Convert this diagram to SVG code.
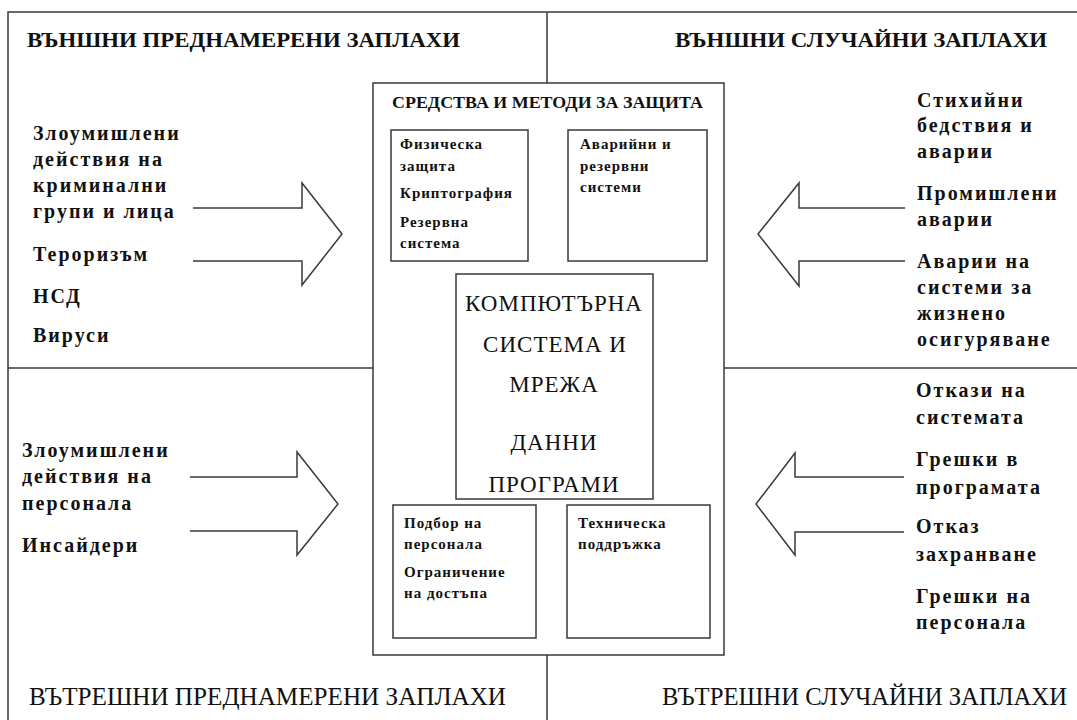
<svg xmlns="http://www.w3.org/2000/svg" width="1077" height="720" viewBox="0 0 1077 720">
<style>
.ln{fill:none;stroke:#3a3a3a;stroke-width:1.5}
.bx{fill:#fff;stroke:#3a3a3a;stroke-width:1.5}
.hd{font-family:"Liberation Serif","DejaVu Serif",serif;font-weight:bold;font-size:21px;fill:#111}
.hb{font-family:"Liberation Serif","DejaVu Serif",serif;font-size:25px;fill:#111}
.th{font-family:"Liberation Serif","DejaVu Serif",serif;font-weight:bold;font-size:20px;letter-spacing:2px;fill:#111}
.sm{font-family:"Liberation Serif","DejaVu Serif",serif;font-weight:bold;font-size:15px;letter-spacing:1px;fill:#111}
.ti{font-family:"Liberation Serif","DejaVu Serif",serif;font-weight:bold;font-size:16px;fill:#111}
.cn{font-family:"Liberation Serif","DejaVu Serif",serif;font-size:23px;letter-spacing:1px;fill:#111;text-anchor:middle}
</style>
<rect width="1077" height="720" fill="#fff"/>
<g id="frame">
<path class="ln" d="M8,720 V12 H1077"/>
<path class="ln" d="M547,12 V83 M547,655 V720 M8,368 H373 M724,368 H1077"/>
</g>
<g id="quad-headers">
<text class="hd" x="27" y="47" textLength="433" lengthAdjust="spacingAndGlyphs">ВЪНШНИ ПРЕДНАМЕРЕНИ  ЗАПЛАХИ</text>
<text class="hd" x="675" y="47" textLength="372" lengthAdjust="spacingAndGlyphs">ВЪНШНИ СЛУЧАЙНИ  ЗАПЛАХИ</text>
<text class="hb" x="29" y="705" textLength="477" lengthAdjust="spacingAndGlyphs">ВЪТРЕШНИ ПРЕДНАМЕРЕНИ ЗАПЛАХИ</text>
<text class="hb" x="662" y="705" textLength="405" lengthAdjust="spacingAndGlyphs">ВЪТРЕШНИ СЛУЧАЙНИ ЗАПЛАХИ</text>
</g>
<g id="central">
<rect class="bx" x="373" y="83" width="351" height="572"/>
<text class="ti" x="392" y="108" textLength="311" lengthAdjust="spacingAndGlyphs">СРЕДСТВА И МЕТОДИ ЗА ЗАЩИТА</text>
</g>
<g id="box-physical">
<rect class="bx" x="391" y="130" width="137" height="131"/>
<text class="sm" x="400" y="149">Физическа</text>
<text class="sm" x="400" y="171">защита</text>
<text class="sm" x="400" y="198">Криптография</text>
<text class="sm" x="400" y="227">Резервна</text>
<text class="sm" x="400" y="248">система</text>
</g>
<g id="box-emergency">
<rect class="bx" x="568" y="130" width="139" height="131"/>
<text class="sm" x="580" y="149">Аварийни и</text>
<text class="sm" x="580" y="171">резервни</text>
<text class="sm" x="580" y="192">системи</text>
</g>
<g id="box-core">
<rect class="bx" x="456" y="274" width="197" height="225"/>
<text class="cn" x="554" y="311">КОМПЮТЪРНА</text>
<text class="cn" x="555" y="352">СИСТЕМА  И</text>
<text class="cn" x="554" y="392">МРЕЖА</text>
<text class="cn" x="554" y="450">ДАННИ</text>
<text class="cn" x="554" y="492">ПРОГРАМИ</text>
</g>
<g id="box-personnel">
<rect class="bx" x="393" y="505" width="143" height="133"/>
<text class="sm" x="404" y="528">Подбор на</text>
<text class="sm" x="404" y="549">персонала</text>
<text class="sm" x="404" y="577">Ограничение</text>
<text class="sm" x="404" y="598">на достъпа</text>
</g>
<g id="box-support">
<rect class="bx" x="567" y="505" width="143" height="133"/>
<text class="sm" x="578" y="528">Техническа</text>
<text class="sm" x="578" y="549">поддръжка</text>
</g>
<g id="threats-ext-intentional">
<text class="th" x="33" y="140">Злоумишлени</text>
<text class="th" x="33" y="166">действия на</text>
<text class="th" x="33" y="192">криминални</text>
<text class="th" x="33" y="218">групи  и лица</text>
<text class="th" x="33" y="261">Тероризъм</text>
<text class="th" x="33" y="303">НСД</text>
<text class="th" x="33" y="342">Вируси</text>
</g>
<g id="threats-ext-accidental">
<text class="th" x="917" y="107">Стихийни</text>
<text class="th" x="917" y="132">бедствия и</text>
<text class="th" x="917" y="158">аварии</text>
<text class="th" x="917" y="200">Промишлени</text>
<text class="th" x="917" y="226">аварии</text>
<text class="th" x="917" y="268">Аварии на</text>
<text class="th" x="917" y="294">системи за</text>
<text class="th" x="917" y="320">жизнено</text>
<text class="th" x="917" y="346">осигуряване</text>
</g>
<g id="threats-int-intentional">
<text class="th" x="22" y="457">Злоумишлени</text>
<text class="th" x="22" y="483">действия на</text>
<text class="th" x="22" y="510">персонала</text>
<text class="th" x="22" y="552">Инсайдери</text>
</g>
<g id="threats-int-accidental">
<text class="th" x="916" y="397">Откази на</text>
<text class="th" x="916" y="424">системата</text>
<text class="th" x="916" y="466">Грешки в</text>
<text class="th" x="916" y="494">програмата</text>
<text class="th" x="916" y="533">Отказ</text>
<text class="th" x="916" y="561">захранване</text>
<text class="th" x="916" y="603">Грешки на</text>
<text class="th" x="916" y="629">персонала</text>
</g>
<g id="connectors">
<path class="ln" d="M193,208 H302 V183 L342,234 L302,285 V261 H193"/>
<path class="ln" d="M190,477 H297 V452 L338,504 L297,555 V531 H190"/>
<path class="ln" d="M905,208 H799 V183 L758,234 L799,286 V261 H905"/>
<path class="ln" d="M904,477 H795 V453 L756,504 L795,555 V532 H904"/>
</g>
</svg>
